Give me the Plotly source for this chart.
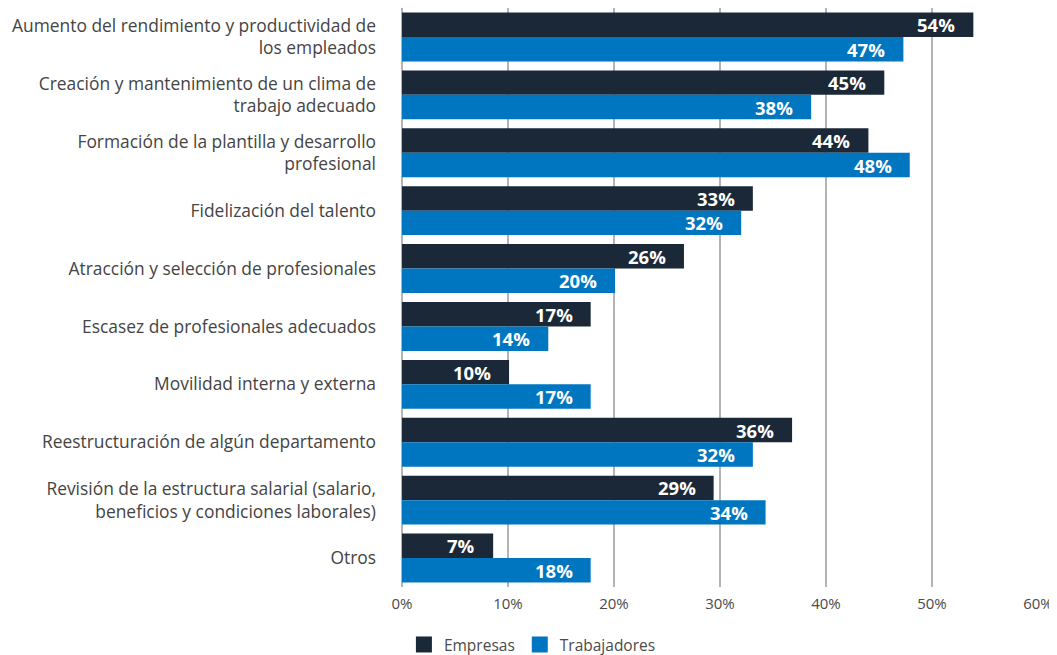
import plotly.graph_objects as go

categories = [
    "Aumento del rendimiento y productividad de<br>los empleados",
    "Creación y mantenimiento de un clima de<br>trabajo adecuado",
    "Formación de la plantilla y desarrollo<br>profesional",
    "Fidelización del talento",
    "Atracción y selección de profesionales",
    "Escasez de profesionales adecuados",
    "Movilidad interna y externa",
    "Reestructuración de algún departamento",
    "Revisión de la estructura salarial (salario,<br>beneficios y condiciones laborales)",
    "Otros",
]
empresas = [53.9, 45.5, 44.0, 33.1, 26.6, 17.8, 10.1, 36.8, 29.4, 8.6]
trabajadores = [47.3, 38.6, 47.9, 32.0, 20.1, 13.8, 17.8, 33.1, 34.3, 17.8]
empresas_labels = ["54%", "45%", "44%", "33%", "26%", "17%", "10%", "36%", "29%", "7%"]
trabajadores_labels = ["47%", "38%", "48%", "32%", "20%", "14%", "17%", "32%", "34%", "18%"]
x_ticks = [0, 10, 20, 30, 40, 50, 60]
x_tick_labels = ["0%", "10%", "20%", "30%", "40%", "50%", "60%"]

DARK = "#1a2838"
BLUE = "#0076c0"
FONT = "Open Sans"

fig = go.Figure()
fig.add_trace(go.Bar(name="Empresas", y=categories, x=empresas, orientation="h",
                     marker=dict(color=DARK, line=dict(width=0)), hoverinfo="skip",
                     showlegend=False))
fig.add_trace(go.Bar(name="Trabajadores", y=categories, x=trabajadores, orientation="h",
                     marker=dict(color=BLUE, line=dict(width=0)), hoverinfo="skip",
                     showlegend=False))
# legend entries with larger square swatches
fig.add_trace(go.Scatter(name="Empresas", x=[None], y=[None], mode="markers",
                         marker=dict(symbol="square", size=18, color=DARK)))
fig.add_trace(go.Scatter(name="Trabajadores", x=[None], y=[None], mode="markers",
                         marker=dict(symbol="square", size=18, color=BLUE)))

for cat, v, lab in zip(categories, empresas, empresas_labels):
    fig.add_annotation(x=v, y=cat, text="<b>" + lab + "</b>", showarrow=False,
                       xanchor="right", yanchor="middle", xshift=-16, yshift=12.25,
                       font=dict(family=FONT, size=18.5, color="white"))
for cat, v, lab in zip(categories, trabajadores, trabajadores_labels):
    fig.add_annotation(x=v, y=cat, text="<b>" + lab + "</b>", showarrow=False,
                       xanchor="right", yanchor="middle", xshift=-16, yshift=-12.25,
                       font=dict(family=FONT, size=18.5, color="white"))

fig.update_layout(
    template="none",
    width=1049, height=647,
    margin=dict(l=394, r=19, t=0, b=68, autoexpand=False),
    barmode="group", bargap=0.155, bargroupgap=0,
    plot_bgcolor="white", paper_bgcolor="white",
    font=dict(family=FONT, size=15, color="#4a4a4a"),
    showlegend=True,
    legend=dict(orientation="h", x=0.003, xanchor="left", y=-0.1, yanchor="middle",
                font=dict(family=FONT, size=15.5, color="#4a4a4a"), traceorder="normal",
                itemsizing="trace", bgcolor="rgba(0,0,0,0)"),
    xaxis=dict(range=[0, 60], tickvals=x_ticks, ticktext=x_tick_labels,
               showgrid=True, gridcolor="#b4b4b4", gridwidth=1.5,
               zeroline=True, zerolinecolor="#b4b4b4", zerolinewidth=1.5,
               showline=False, ticks="", ticklabelstandoff=6, automargin=False,
               tickfont=dict(family=FONT, size=15, color="#4a4a4a")),
    yaxis=dict(autorange="reversed", showgrid=False, zeroline=False, ticks="",
               ticklabelstandoff=25, automargin=False, showline=False,
               tickfont=dict(family=FONT, size=17.4, color="#444444")),
)

fig.write_html("out.html")
